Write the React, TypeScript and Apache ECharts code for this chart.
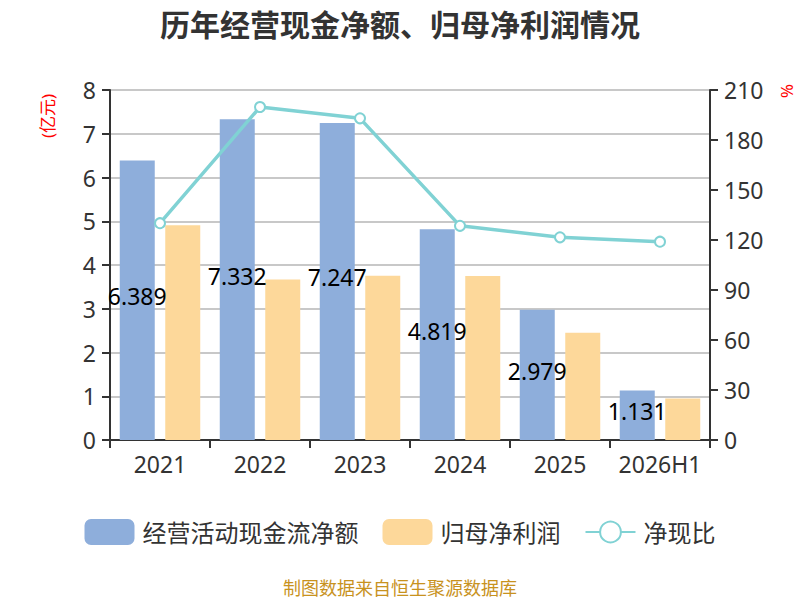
import React, { useEffect, useRef } from "react";
import * as echarts from "echarts";

const categories = ["2021", "2022", "2023", "2024", "2025", "2026H1"];
const cashFlow = [6.389, 7.332, 7.247, 4.819, 2.979, 1.131];
const netProfit = [4.91, 3.67, 3.755, 3.75, 2.45, 0.95];
const ratio = [130.1, 199.8, 193.0, 128.5, 121.6, 119.0];

const FONT = "'Noto Sans', 'Noto Sans CJK SC', sans-serif";

export default function App() {
  const ref = useRef<HTMLDivElement>(null);
  useEffect(() => {
    document.body.style.margin = "0";
    const chart = echarts.init(ref.current!, null, { renderer: "svg" });
    chart.setOption({
      animation: false,
      textStyle: { fontFamily: FONT },
      title: {
        text: "历年经营现金净额、归母净利润情况",
        left: "center",
        top: 4,
        textStyle: { fontSize: 30, fontWeight: "bold", color: "#333", fontFamily: FONT },
      },
      grid: { left: 110, right: 90, top: 90, bottom: 160 },
      legend: {
        bottom: 50,
        left: "center",
        itemWidth: 50,
        itemHeight: 26,
        itemGap: 24,
        textStyle: { fontSize: 24, color: "#333", fontFamily: FONT, padding: [0, 0, 0, 3] },
        data: [
          { name: "经营活动现金流净额", icon: "roundRect" },
          { name: "归母净利润", icon: "roundRect" },
          { name: "净现比" },
        ],
      },
      graphic: [
        {
          type: "text",
          x: 47,
          y: 116,
          rotation: Math.PI / 2,
          style: {
            text: "(亿元)",
            fill: "#ff0000",
            fontSize: 17,
            fontFamily: FONT,
            align: "center",
            verticalAlign: "middle",
          },
        },
        {
          type: "text",
          x: 787,
          y: 91,
          rotation: -Math.PI / 2,
          style: {
            text: "%",
            fill: "#ff0000",
            fontSize: 17,
            fontFamily: FONT,
            align: "center",
            verticalAlign: "middle",
          },
        },
        {
          type: "text",
          x: 400,
          y: 588,
          style: {
            text: "制图数据来自恒生聚源数据库",
            fill: "#c8921e",
            fontSize: 18,
            fontFamily: FONT,
            align: "center",
            verticalAlign: "middle",
          },
        },
      ],
      xAxis: {
        type: "category",
        data: categories,
        axisLine: { lineStyle: { color: "#333", width: 2 } },
        axisTick: { show: true, length: 8, lineStyle: { color: "#333", width: 2 } },
        axisLabel: { interval: 0, fontSize: 23, color: "#333", margin: 12, fontFamily: FONT },
      },
      yAxis: [
        {
          type: "value",
          min: 0,
          max: 8,
          interval: 1,
          axisLine: { show: true, lineStyle: { color: "#333", width: 2 } },
          axisTick: { show: true, length: 8, lineStyle: { color: "#333", width: 2 } },
          axisLabel: { fontSize: 23, color: "#333", margin: 14, fontFamily: FONT },
          splitLine: { lineStyle: { color: "#c8c8c8", width: 2 } },
        },
        {
          type: "value",
          min: 0,
          max: 210,
          interval: 30,
          position: "right",
          axisLine: { show: true, lineStyle: { color: "#333", width: 2 } },
          axisTick: { show: true, length: 8, lineStyle: { color: "#333", width: 2 } },
          axisLabel: { fontSize: 23, color: "#333", margin: 14, fontFamily: FONT },
          splitLine: { show: false },
        },
      ],
      series: [
        {
          name: "经营活动现金流净额",
          type: "bar",
          data: cashFlow,
          barWidth: 35,
          barGap: "30%",
          itemStyle: { color: "#8eaedb" },
          label: {
            show: true,
            position: "inside",
            offset: [0, -4],
            color: "#000",
            fontSize: 23,
            fontFamily: FONT,
          },
          z: 2,
        },
        {
          name: "归母净利润",
          type: "bar",
          data: netProfit,
          barWidth: 35,
          barGap: "30%",
          itemStyle: { color: "#fdd89a" },
          z: 2,
        },
        {
          name: "净现比",
          type: "line",
          yAxisIndex: 1,
          data: ratio,
          symbol: "circle",
          symbolSize: 10,
          lineStyle: { color: "#80d2d4", width: 3.5 },
          itemStyle: { color: "#fff", borderColor: "#80d2d4", borderWidth: 2 },
          z: 3,
        },
      ],
    });
    return () => chart.dispose();
  }, []);
  return <div ref={ref} style={{ width: 800, height: 600 }} />;
}
